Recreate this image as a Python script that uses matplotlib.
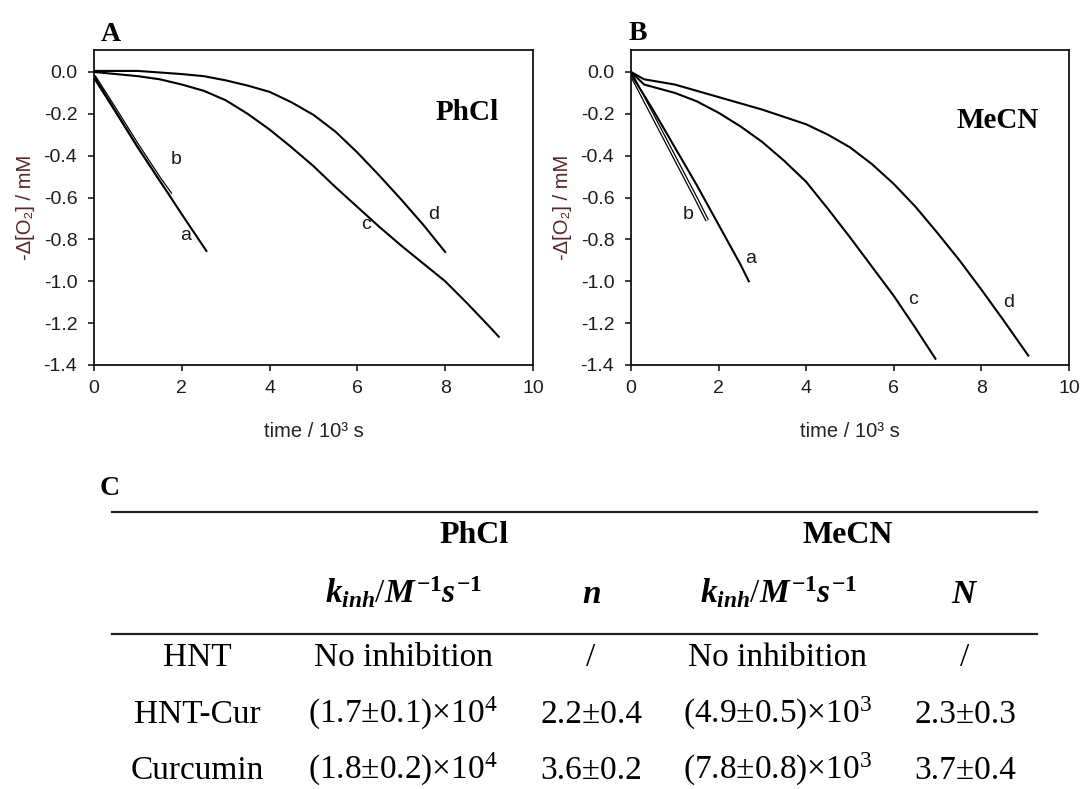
import matplotlib
matplotlib.use('Agg')
import matplotlib.pyplot as plt
import numpy as np

plt.rcParams['axes.unicode_minus'] = False
plt.rcParams['font.family'] = ['Liberation Sans', 'DejaVu Sans']
plt.rcParams['mathtext.fontset'] = 'custom'
plt.rcParams['mathtext.rm'] = 'Liberation Serif'
plt.rcParams['mathtext.it'] = 'Liberation Serif:italic:bold'
plt.rcParams['mathtext.bf'] = 'Liberation Serif:bold'

# ---- panel A: PhCl (time in 10^3 s, -d[O2] in mM)
t_phcl_a = [0, 0.5, 1.0, 1.5, 2.0, 2.56]
o2_phcl_a = [-0.02, -0.19, -0.36, -0.52, -0.68, -0.855]
t_phcl_b = [0, 0.5, 1.0, 1.5, 1.75]
o2_phcl_b = [-0.02, -0.185, -0.353, -0.512, -0.585]
t_phcl_c = [0, 0.5, 1, 1.5, 2, 2.5, 3, 3.5, 4, 4.5, 5, 5.5, 6, 6.5, 7, 7.5, 8, 8.5, 9, 9.22]
o2_phcl_c = [0, -0.01, -0.02, -0.035, -0.06, -0.09, -0.135, -0.2, -0.275, -0.36,
             -0.45, -0.55, -0.645, -0.74, -0.83, -0.915, -1.0, -1.105, -1.215, -1.265]
t_phcl_d = [0, 1, 2, 2.5, 3, 3.5, 4, 4.5, 5, 5.5, 6, 6.5, 7, 7.5, 8]
o2_phcl_d = [0.005, 0.005, -0.01, -0.02, -0.04, -0.065, -0.095, -0.145, -0.205,
             -0.285, -0.385, -0.495, -0.61, -0.73, -0.86]

# ---- panel B: MeCN
t_mecn_a = [0, 0.5, 1.0, 1.5, 2.0, 2.5, 2.69]
o2_mecn_a = [-0.01, -0.18, -0.36, -0.54, -0.73, -0.92, -1.0]
t_mecn_b = [0, 0.5, 1.0, 1.5, 1.74]
o2_mecn_b = [-0.01, -0.21, -0.41, -0.61, -0.71]
t_mecn_c = [0, 0.3, 1.0, 1.5, 2.0, 2.5, 3.0, 3.5, 4.0, 4.5, 5.0, 5.5, 6.0, 6.5, 6.95]
o2_mecn_c = [0, -0.06, -0.10, -0.14, -0.195, -0.26, -0.335, -0.425, -0.525, -0.655,
             -0.79, -0.93, -1.07, -1.225, -1.37]
t_mecn_d = [0, 0.3, 1, 2, 3, 4, 4.5, 5, 5.5, 6, 6.5, 7, 7.5, 8, 8.5, 9.07]
o2_mecn_d = [0, -0.035, -0.06, -0.12, -0.18, -0.25, -0.30, -0.36, -0.44, -0.535,
             -0.645, -0.77, -0.9, -1.04, -1.185, -1.355]

# curve labels (x, y in data units)
labels_phcl = {'a': (2.08, -0.78), 'b': (1.87, -0.42), 'c': (6.2, -0.73), 'd': (7.73, -0.68)}
labels_mecn = {'a': (2.72, -0.89), 'b': (1.31, -0.68), 'c': (6.44, -1.085), 'd': (8.63, -1.10)}

y_ticks = [-1.4, -1.2, -1.0, -0.8, -0.6, -0.4, -0.2, 0.0]
x_ticks = [0, 2, 4, 6, 8, 10]

# ---- panel C: table
row_names = ['HNT', 'HNT-Cur', 'Curcumin']
kinh_phcl = ['No inhibition', r'(1.7±0.1)×10$^4$', r'(1.8±0.2)×10$^4$']
n_phcl = ['/', '2.2±0.4', '3.6±0.2']
kinh_mecn = ['No inhibition', r'(4.9±0.5)×10$^3$', r'(7.8±0.8)×10$^3$']
n_mecn = ['/', '2.3±0.3', '3.7±0.4']

W, H = 1083, 789
fig = plt.figure(figsize=(W / 100, H / 100), dpi=100)

tick_col = '#1c1c28'
ylab_col = '#5a2525'


def make_panel(left_px, right_px, curves, hollow, lab, solvent, solvent_pos):
    ax = fig.add_axes([left_px / W, 1 - 365 / H, (right_px - left_px) / W, 315 / H])
    t, y = hollow
    ax.plot(t, y, color='black', lw=2.8, solid_capstyle='butt')
    ax.plot(t, y, color='white', lw=1.0, solid_capstyle='butt')
    for t, y in curves:
        ax.plot(t, y, color='black', lw=1.5)
    for k, (x, y) in lab.items():
        ax.text(x, y, k, fontsize=14, color='#1a1a1a', ha='center', va='center')
    ax.text(solvent_pos[0], solvent_pos[1], solvent, transform=ax.transAxes,
            family='Liberation Serif', fontweight='bold', fontsize=21,
            ha='center', va='baseline')
    ax.set_xlim(0, 10)
    ax.set_ylim(-1.4, 0.105)
    ax.set_xticks(x_ticks)
    ax.set_yticks(y_ticks)
    ax.set_yticklabels(['%.1f' % v for v in y_ticks])
    ax.tick_params(direction='out', length=4, width=1.2, labelsize=14,
                   colors=tick_col, pad=7)
    ax.tick_params(axis='y', pad=8)
    for s in ax.spines.values():
        s.set_linewidth(1.3)
        s.set_color('#111111')
    ax.set_xlabel('time / 10³ s', fontsize=14.5, color='#222222')
    ax.xaxis.set_label_coords(0.5, -0.18)
    ax.xaxis.label.set_va('top')
    ax.set_ylabel('-Δ[O₂] / mM', fontsize=14.5, color=ylab_col)
    ax.yaxis.set_label_coords(-0.135, 0.5)
    return ax


axA = make_panel(94, 533,
                 [(t_phcl_a, o2_phcl_a), (t_phcl_c, o2_phcl_c), (t_phcl_d, o2_phcl_d)],
                 (t_phcl_b, o2_phcl_b), labels_phcl, 'PhCl', (0.85, 0.778))
axB = make_panel(631, 1069,
                 [(t_mecn_a, o2_mecn_a), (t_mecn_c, o2_mecn_c), (t_mecn_d, o2_mecn_d)],
                 (t_mecn_b, o2_mecn_b), labels_mecn, 'MeCN', (0.838, 0.752))

# overlay in pixel coordinates for panel letters and the table
ov = fig.add_axes([0, 0, 1, 1], zorder=-1)
ov.set_xlim(0, W)
ov.set_ylim(H, 0)
ov.axis('off')

serif = 'Liberation Serif'
ov.text(111, 41, 'A', family=serif, fontweight='bold', fontsize=20, ha='center', va='baseline')
ov.text(638, 40, 'B', family=serif, fontweight='bold', fontsize=20, ha='center', va='baseline')
ov.text(110, 495, 'C', family=serif, fontweight='bold', fontsize=20, ha='center', va='baseline')

ov.plot([112, 1037], [512, 512], color='#222222', lw=1.6)
ov.plot([112, 1037], [634, 634], color='#222222', lw=1.6)

col_x = [197, 403, 591, 778, 965]
ov.text(474, 543, 'PhCl', family=serif, fontweight='bold', fontsize=23, ha='center', va='baseline')
ov.text(848, 543, 'MeCN', family=serif, fontweight='bold', fontsize=23, ha='center', va='baseline')
kin_head = r'$k_{inh}/M^{\mathbf{-1}}s^{\mathbf{-1}}$'
ov.text(col_x[1], 603, kin_head, fontsize=24, ha='center', va='baseline')
ov.text(col_x[3], 603, kin_head, fontsize=24, ha='center', va='baseline')
ov.text(col_x[2], 603, '$n$', fontsize=24, ha='center', va='baseline')
ov.text(col_x[4], 603, '$N$', fontsize=24, ha='center', va='baseline')

row_base = [666, 723, 779]
for i, name in enumerate(row_names):
    cells = [name, kinh_phcl[i], n_phcl[i], kinh_mecn[i], n_mecn[i]]
    for x, s in zip(col_x, cells):
        ov.text(x, row_base[i], s, family=serif, fontsize=24, ha='center', va='baseline')

fig.savefig('out.png', dpi=100)
